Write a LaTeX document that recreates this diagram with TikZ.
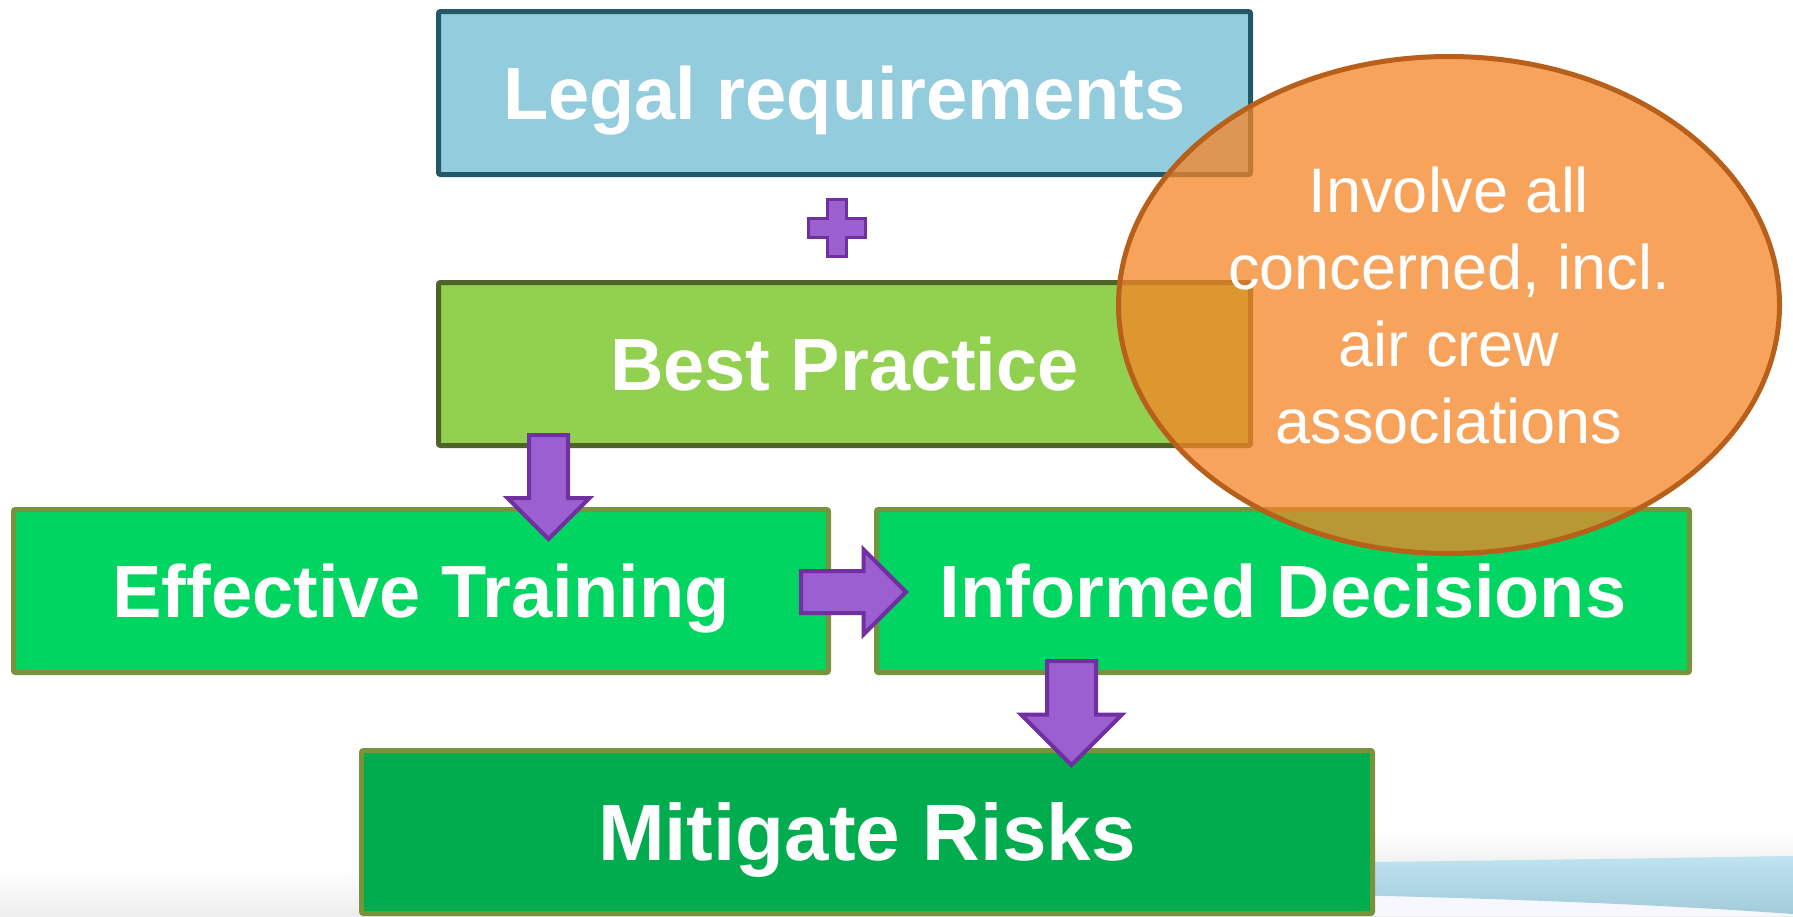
\documentclass[tikz,border=0pt]{standalone}
\usepackage{fontspec}
\setmainfont{Liberation Sans}
\usetikzlibrary{shapes.geometric,shapes.arrows}

\definecolor{legalfill}{HTML}{93CDDD}
\definecolor{legalline}{HTML}{215968}
\definecolor{bestfill}{HTML}{92D050}
\definecolor{bestline}{HTML}{4F6228}
\definecolor{stepfill}{HTML}{00D461}
\definecolor{riskfill}{HTML}{00AC4E}
\definecolor{stepline}{HTML}{77933C}
\definecolor{arrowfill}{HTML}{9B5FCF}
\definecolor{arrowline}{HTML}{7030A0}
\definecolor{ovalfill}{RGB}{246,132,38}
\definecolor{ovalline}{HTML}{B8601A}
\definecolor{swooshtop}{HTML}{BEE3F1}
\definecolor{swooshbot}{HTML}{A3CBDA}

\begin{document}
\begin{tikzpicture}[x=0.5pt, y=-0.5pt,
    box/.style={draw, line width=2.5pt, rounded corners=1pt, inner sep=0pt,
        minimum width=406pt, minimum height=81.5pt, text=white,
        font=\bfseries\fontsize{37}{44}\selectfont, text height=26.6pt, text depth=0pt},
    blockarrow/.style={single arrow, draw=arrowline, fill=arrowfill, line width=2pt,
        inner xsep=0pt, anchor=tail},
    oval/.style={ellipse, draw=ovalline, line width=2.5pt, fill=ovalfill,
        fill opacity=0.75, text opacity=1, text=white, inner sep=0pt,
        minimum width=330.5pt, minimum height=248.5pt, align=center,
        font=\fontsize{31.5}{38.5}\selectfont}]

    \useasboundingbox (0,0) rectangle (1793,916);

    % soft floor and blue swoosh
    \shade[top color=white, bottom color=black!7] (0,870) rectangle (1793,916);
    \shade[top color=white, bottom color=black!6] (1000,830) rectangle (1793,866);
    \fill[blue!3] (900,885) -- (1793,905) -- (1793,916) -- (900,916) -- cycle;
    \shade[top color=swooshtop, bottom color=swooshbot]
        (900,866) .. controls (1300,864) and (1600,859) .. (1793,856)
        -- (1793,914) .. controls (1600,900) and (1300,891) .. (900,889) -- cycle;

    % the boxes
    \node[box, draw=legalline, fill=legalfill] (legal) at (844.5,93) {Legal requirements};
    \node[box, draw=bestline, fill=bestfill] (best) at (844.5,364) {Best Practice};
    \node[box, draw=stepline, fill=stepfill, minimum width=407.5pt] (training) at (421,591) {Effective Training};
    \node[box, draw=stepline, fill=stepfill, minimum width=406.5pt] (decisions) at (1283,591) {Informed Decisions};
    \node[box, draw=stepline, fill=riskfill, minimum width=505.5pt,
        font=\bfseries\fontsize{40}{48}\selectfont, text height=28.8pt] (risks) at (867,832) {Mitigate Risks};

    % plus sign
    \draw[draw=arrowline, fill=arrowfill, line width=1.5pt]
        (837,228) ++(-9.5,-28.5) -- ++(19,0) -- ++(0,19) -- ++(19,0) -- ++(0,19)
        -- ++(-19,0) -- ++(0,19) -- ++(-19,0) -- ++(0,-19) -- ++(-19,0)
        -- ++(0,-19) -- ++(19,0) -- cycle;

    % block arrows, placed by their tails
    \node[blockarrow, rotate=-90, minimum height=52pt, minimum width=39pt,
        inner ysep=8.75pt, single arrow head extend=10.75pt] (down1) at (548.5,433) {};
    \node[blockarrow, minimum height=52.5pt, minimum width=40.5pt,
        inner ysep=9.5pt, single arrow head extend=10.75pt] (right1) at (799,592) {};
    \node[blockarrow, rotate=-90, minimum height=52pt, minimum width=48.5pt,
        inner ysep=11.25pt, single arrow head extend=13pt] (down2) at (1071.5,659) {};

    % the oval on top
    \node[oval] (involve) at (1449,305) {Involve all\\concerned, incl.\\air crew\\associations};
\end{tikzpicture}
\end{document}
